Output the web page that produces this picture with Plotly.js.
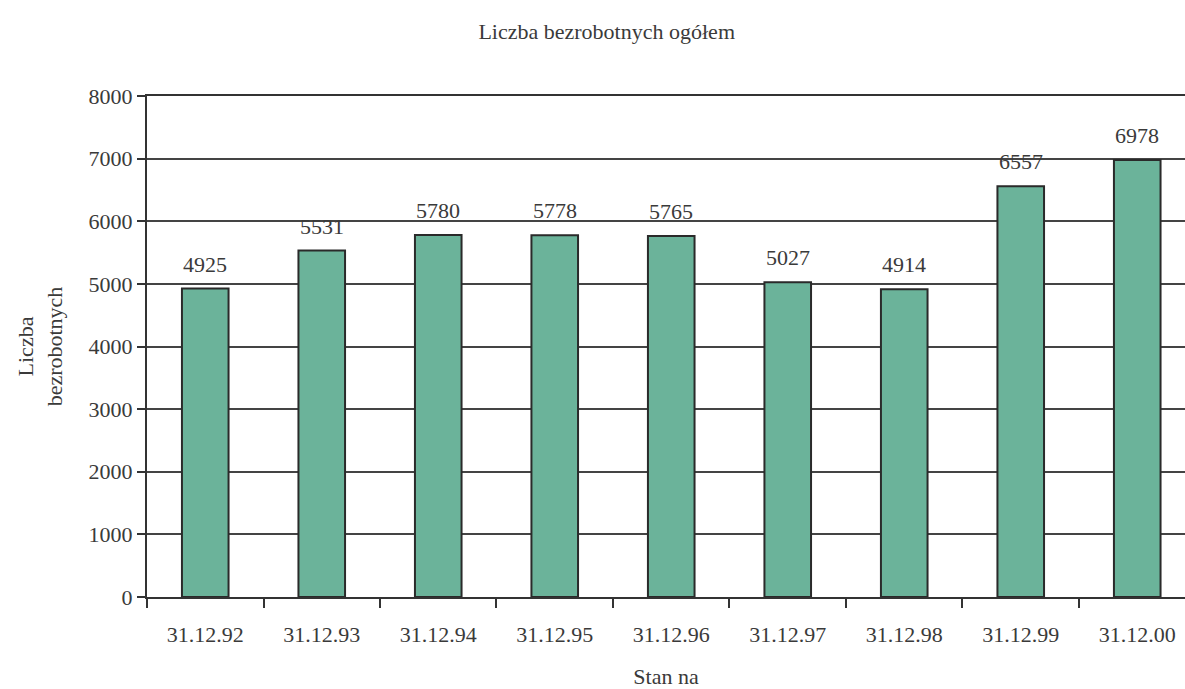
<!DOCTYPE html>
<html>
<head>
<meta charset="utf-8">
<script src="https://cdn.plot.ly/plotly-3.0.1.min.js"></script>
<style>html,body{margin:0;padding:0;background:#fff;}#chart{width:1185px;height:689px;}</style>
</head>
<body>
<div id="chart"></div>
<script>
const categories = ["31.12.92","31.12.93","31.12.94","31.12.95","31.12.96","31.12.97","31.12.98","31.12.99","31.12.00"];
const values = [4925, 5531, 5780, 5778, 5765, 5027, 4914, 6557, 6978];
const yTicks = [0,1000,2000,3000,4000,5000,6000,7000,8000];

const fam = "Liberation Serif, Times New Roman, serif";
const txtColor = "#3a3a3a";

const labels = categories.map((c, i) => ({
  x: c, y: values[i], xref: "x", yref: "y",
  text: String(values[i]), showarrow: false,
  yanchor: "bottom", yshift: 10,
  font: {family: fam, size: 22, color: txtColor}
}));

Plotly.newPlot("chart", [{
  type: "bar",
  x: categories,
  y: values,
  width: 0.4,
  marker: {color: "#6bb39a", line: {color: "#2a2a2a", width: 2}},
  hoverinfo: "x+y"
}], {
  width: 1185, height: 689,
  margin: {l: 147, r: 0, t: 96, b: 92},
  paper_bgcolor: "#fff", plot_bgcolor: "#fff",
  font: {family: fam, color: txtColor, size: 22},
  showlegend: false,
  annotations: labels,
  title: {text: "Liczba bezrobotnych ogółem", x: 0.512, xanchor: "center", y: 0.955, yanchor: "middle", font: {family: fam, size: 22, color: txtColor}},
  xaxis: {
    type: "category",
    range: [-0.5, 8.41],
    tickson: "boundaries",
    ticks: "outside", ticklen: 9, tickcolor: "#333", tickwidth: 2,
    showline: true, linecolor: "#333", linewidth: 2, mirror: true,
    showgrid: false,
    ticklabelstandoff: 17,
    automargin: false,
    tickfont: {family: fam, size: 22, color: txtColor},
    title: {text: "Stan na", font: {family: fam, size: 22, color: txtColor}, standoff: 24}
  },
  yaxis: {
    range: [0, 8000],
    tickvals: yTicks,
    ticktext: yTicks.map(String),
    ticks: "outside", ticklen: 8, tickcolor: "#333", tickwidth: 2,
    showline: true, linecolor: "#333", linewidth: 2,
    showgrid: true, gridcolor: "#444", gridwidth: 2,
    zeroline: false,
    automargin: false,
    tickfont: {family: fam, size: 22, color: txtColor},
    title: {text: "Liczba<br>bezrobotnych", font: {family: fam, size: 22, color: txtColor}, standoff: 20}
  },
  bargap: 0.6
}, {displayModeBar: false, staticPlot: true});
</script>
</body>
</html>
